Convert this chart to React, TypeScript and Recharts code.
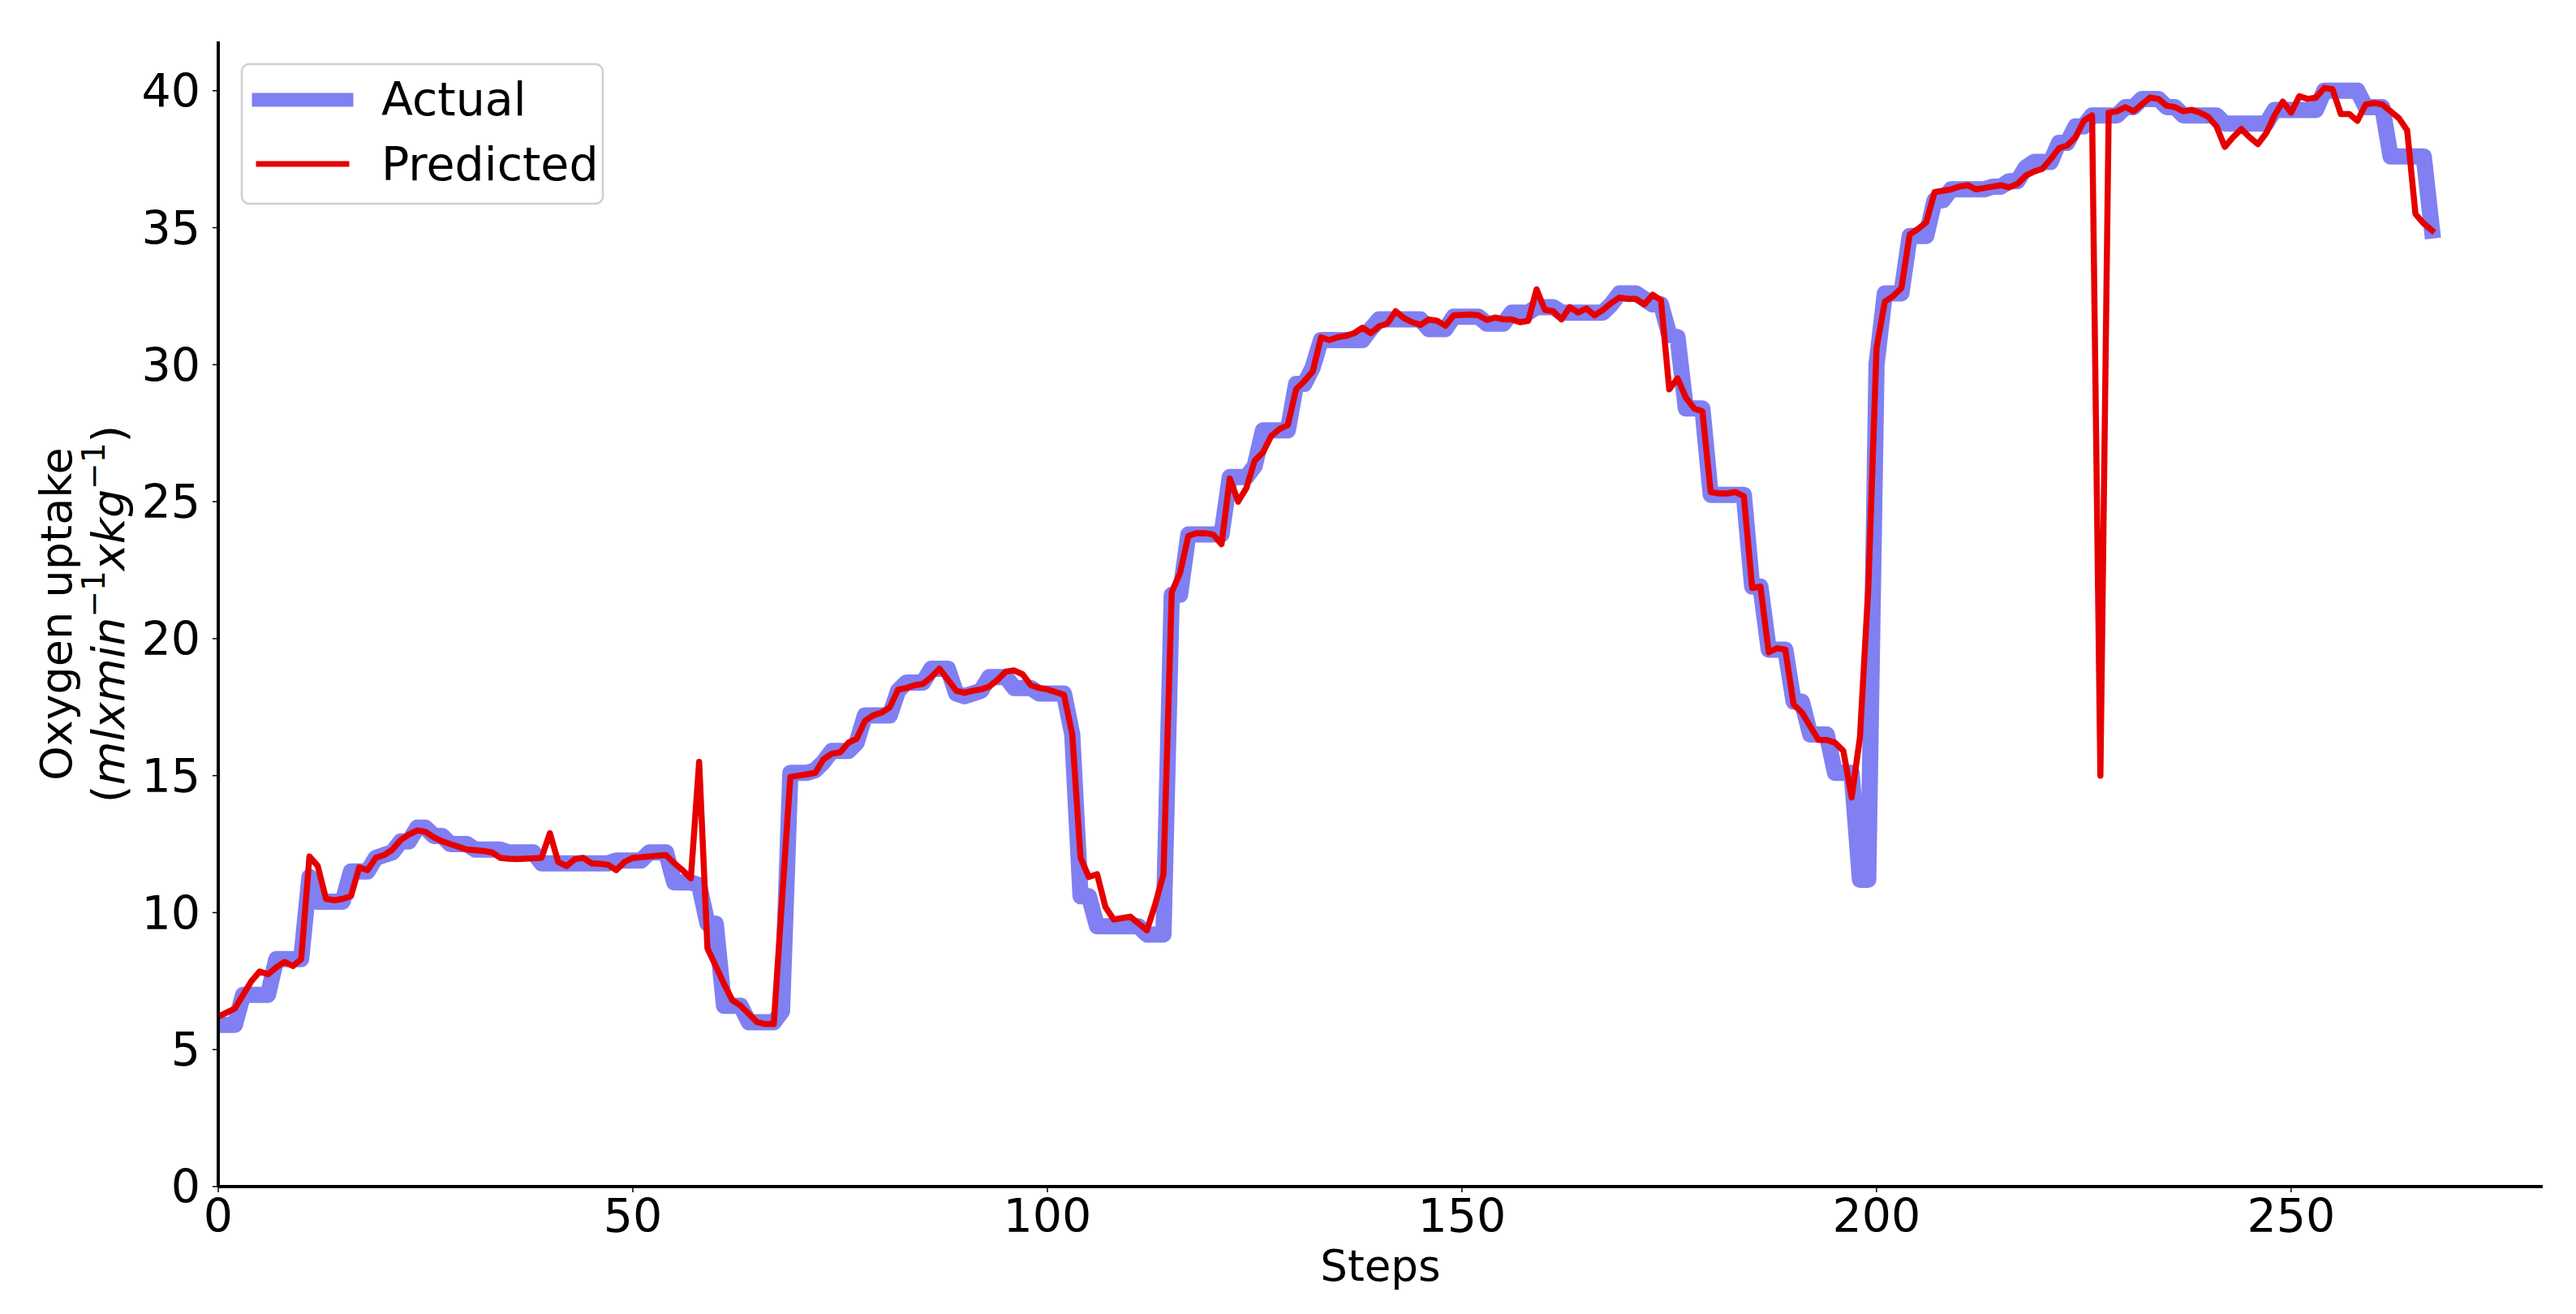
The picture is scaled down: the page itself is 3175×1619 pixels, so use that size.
import React from 'react';
import { LineChart, Line, XAxis, YAxis, Customized } from 'recharts';

// ---- data ----
const SERIES_NAMES = ['Actual', 'Predicted'];

const ACTUAL: number[] = [
  // 0-9
  5.9, 5.9, 5.9, 7.0, 7.0, 7.0, 7.0, 8.3, 8.3, 8.3,
  // 10-19
  8.3, 11.3, 10.4, 10.4, 10.4, 10.4, 11.5, 11.5, 11.5, 12.0,
  // 20-29
  12.1, 12.2, 12.6, 12.6, 13.1, 13.1, 12.8, 12.8, 12.5, 12.5,
  // 30-39
  12.5, 12.3, 12.3, 12.3, 12.3, 12.2, 12.2, 12.2, 12.2, 11.8,
  // 40-49
  11.8, 11.8, 11.8, 11.8, 11.8, 11.8, 11.8, 11.8, 11.9, 11.9,
  // 50-59
  11.9, 11.9, 12.2, 12.2, 12.2, 11.1, 11.1, 11.1, 11.0, 9.6,
  // 60-69
  9.6, 6.6, 6.6, 6.6, 6.0, 6.0, 6.0, 6.0, 6.4, 15.1,
  // 70-79
  15.1, 15.1, 15.2, 15.5, 15.9, 15.9, 15.9, 16.2, 17.2, 17.2,
  // 80-89
  17.2, 17.2, 18.1, 18.4, 18.4, 18.4, 18.9, 18.9, 18.9, 18.0,
  // 90-99
  17.9, 18.0, 18.1, 18.6, 18.6, 18.6, 18.2, 18.2, 18.2, 18.0,
  // 100-109
  18.0, 18.0, 18.0, 16.5, 10.6, 10.6, 9.5, 9.5, 9.5, 9.5,
  // 110-119
  9.5, 9.5, 9.2, 9.2, 9.2, 21.6, 21.6, 23.8, 23.8, 23.8,
  // 120-129
  23.8, 23.8, 25.9, 25.9, 25.9, 26.3, 27.6, 27.6, 27.6, 27.6,
  // 130-139
  29.3, 29.3, 29.9, 30.9, 30.9, 30.9, 30.9, 30.9, 30.9, 31.3,
  // 140-149
  31.65, 31.65, 31.65, 31.65, 31.65, 31.65, 31.3, 31.3, 31.3, 31.75,
  // 150-159
  31.75, 31.75, 31.75, 31.5, 31.5, 31.5, 31.9, 31.9, 31.9, 32.1,
  // 160-169
  32.1, 32.1, 31.9, 31.9, 31.9, 31.9, 31.9, 31.9, 32.2, 32.6,
  // 170-179
  32.6, 32.6, 32.4, 32.2, 32.2, 31.1, 31.0, 28.4, 28.4, 28.4,
  // 180-189
  25.25, 25.25, 25.25, 25.25, 25.25, 21.9, 21.9, 19.6, 19.6, 19.6,
  // 190-199
  17.7, 17.7, 16.5, 16.5, 16.5, 15.1, 15.1, 15.1, 11.2, 11.2,
  // 200-209
  30.0, 32.6, 32.6, 32.6, 34.7, 34.7, 34.7, 36.0, 36.0, 36.4,
  // 210-219
  36.4, 36.4, 36.4, 36.4, 36.5, 36.5, 36.7, 36.7, 37.2, 37.4,
  // 220-229
  37.4, 37.4, 38.1, 38.1, 38.7, 38.7, 39.1, 39.1, 39.1, 39.1,
  // 230-239
  39.4, 39.4, 39.7, 39.7, 39.7, 39.4, 39.4, 39.1, 39.1, 39.1,
  // 240-249
  39.1, 39.1, 38.8, 38.8, 38.8, 38.8, 38.8, 38.8, 39.3, 39.3,
  // 250-259
  39.3, 39.3, 39.3, 39.3, 40.0, 40.0, 40.0, 40.0, 40.0, 39.4,
  // 260-267
  39.4, 39.4, 37.6, 37.6, 37.6, 37.6, 37.6, 34.9,
];

const PREDICTED: number[] = [
  // 0-9
  6.2, 6.35, 6.5, 7.0, 7.5, 7.85, 7.75, 8.0, 8.2, 8.05,
  // 10-19
  8.3, 12.05, 11.7, 10.5, 10.45, 10.5, 10.6, 11.65, 11.55, 12.0,
  // 20-29
  12.1, 12.3, 12.65, 12.85, 13.0, 12.95, 12.75, 12.6, 12.5, 12.4,
  // 30-39
  12.3, 12.28, 12.25, 12.2, 12.0, 11.97, 11.95, 11.97, 11.98, 12.0,
  // 40-49
  12.9, 11.85, 11.7, 11.95, 12.0, 11.8, 11.78, 11.75, 11.55, 11.85,
  // 50-59
  12.0, 12.02, 12.05, 12.08, 12.1, 11.8, 11.55, 11.25, 15.5, 8.7,
  // 60-69
  8.05, 7.4, 6.8, 6.6, 6.3, 6.0, 5.93, 5.93, 10.5, 14.95,
  // 70-79
  15.0, 15.05, 15.1, 15.6, 15.8, 15.85, 16.2, 16.35, 17.0, 17.2,
  // 80-89
  17.3, 17.5, 18.14, 18.2, 18.3, 18.35, 18.6, 18.9, 18.5, 18.1,
  // 90-99
  18.02, 18.1, 18.15, 18.25, 18.5, 18.8, 18.84, 18.7, 18.3, 18.2,
  // 100-109
  18.15, 18.05, 17.95, 16.5, 12.0, 11.3, 11.4, 10.2, 9.75, 9.8,
  // 110-119
  9.85, 9.6, 9.35, 10.3, 11.4, 21.7, 22.4, 23.75, 23.85, 23.85,
  // 120-129
  23.8, 23.45, 25.85, 25.0, 25.5, 26.5, 26.8, 27.4, 27.65, 27.8,
  // 130-139
  29.1, 29.4, 29.75, 31.0, 30.9, 31.0, 31.05, 31.15, 31.35, 31.15,
  // 140-149
  31.4, 31.5, 31.95, 31.7, 31.55, 31.45, 31.65, 31.6, 31.42, 31.8,
  // 150-159
  31.82, 31.83, 31.8, 31.63, 31.72, 31.65, 31.65, 31.55, 31.6, 32.75,
  // 160-169
  32.0, 31.95, 31.65, 32.1, 31.9, 32.05, 31.8, 32.0, 32.25, 32.45,
  // 170-179
  32.4, 32.4, 32.2, 32.55, 32.35, 29.1, 29.5, 28.8, 28.4, 28.3,
  // 180-189
  25.35, 25.3, 25.3, 25.35, 25.2, 21.85, 21.9, 19.5, 19.65, 19.6,
  // 190-199
  17.6, 17.3, 16.8, 16.3, 16.3, 16.2, 15.9, 14.2, 16.4, 21.8,
  // 200-209
  30.6, 32.3, 32.5, 32.8, 34.75, 34.95, 35.2, 36.3, 36.35, 36.4,
  // 210-219
  36.5, 36.55, 36.4, 36.45, 36.5, 36.55, 36.47, 36.6, 36.9, 37.05,
  // 220-229
  37.15, 37.5, 37.9, 38.0, 38.3, 38.9, 39.1, 15.0, 39.2, 39.25,
  // 230-239
  39.4, 39.25, 39.5, 39.75, 39.7, 39.45, 39.4, 39.25, 39.3, 39.2,
  // 240-249
  39.05, 38.7, 37.95, 38.3, 38.6, 38.3, 38.05, 38.45, 39.1, 39.6,
  // 250-259
  39.2, 39.8, 39.7, 39.75, 40.1, 40.05, 39.15, 39.15, 38.9, 39.5,
  // 260-267
  39.55, 39.5, 39.25, 39.0, 38.55, 35.5, 35.15, 34.9,
];

const X_TICKS = [0, 50, 100, 150, 200, 250];
const Y_TICKS = [0, 5, 10, 15, 20, 25, 30, 35, 40];
const X_DOMAIN: [number, number] = [0, 280.35];
const Y_DOMAIN: [number, number] = [0, 41.8];

const data = ACTUAL.map((a, i) => ({ step: i, actual: a, predicted: PREDICTED[i] }));

// ---- styles ----
const FONT = 'DejaVu Sans';
const BLUE = '#8080f2';
const RED = '#e60000';
const TICK_FS = 57;

const LegendBox = () => (
  <g>
    <rect x={298} y={79} width={445} height={172} rx={9} ry={9} fill="#ffffff" fillOpacity={0.85} stroke="#cfcfcf" strokeWidth={2.5} />
    <line x1={319} x2={427} y1={123} y2={123} stroke={BLUE} strokeWidth={17} strokeLinecap="square" />
    <line x1={319} x2={427} y1={202} y2={202} stroke={RED} strokeWidth={7} strokeLinecap="square" />
    <text x={470} y={142} fontFamily={FONT} fontSize={57} fill="#000">{SERIES_NAMES[0]}</text>
    <text x={470} y={222} fontFamily={FONT} fontSize={57} fill="#000">{SERIES_NAMES[1]}</text>
  </g>
);

const YLabel = (props: any) => {
  const vb = props.viewBox || { x: 0, y: 51, width: 0, height: 1411 };
  const cy = vb.y + vb.height / 2;
  return (
    <g>
      <text transform={`translate(88,${cy}) rotate(-90)`} textAnchor="middle" fontFamily={FONT} fontSize={54} fill="#000">
        Oxygen uptake
      </text>
      <text transform={`translate(153,${cy}) rotate(-90)`} textAnchor="middle" fontFamily={FONT} fontSize={55.5} fill="#000">
        <tspan>(</tspan>
        <tspan fontStyle="italic">mlxmin</tspan>
        <tspan fontSize={39} dy={-24}>−1</tspan>
        <tspan fontStyle="italic" dy={24}>xkg</tspan>
        <tspan fontSize={39} dy={-24}>−1</tspan>
        <tspan dy={24}>)</tspan>
      </text>
    </g>
  );
};

const XLabel = (props: any) => {
  const vb = props.viewBox || { x: 269, y: 1462, width: 2861, height: 100 };
  return (
    <text x={vb.x + vb.width / 2} y={1578} textAnchor="middle" fontFamily={FONT} fontSize={53} fill="#000">
      Steps
    </text>
  );
};

export default function App() {
  return (
    <div style={{ position: 'absolute', left: 0, top: 0, background: '#fff' }}>
      <LineChart width={3175} height={1619} data={data} margin={{ top: 51, right: 41, bottom: 57, left: 149 }}>
        <XAxis
          dataKey="step"
          type="number"
          domain={X_DOMAIN}
          ticks={X_TICKS}
          height={100}
          axisLine={{ stroke: '#000', strokeWidth: 4 }}
          tickLine={{ stroke: '#000', strokeWidth: 1.5 }}
          tickSize={7}
          tickMargin={9}
          tick={{ fontSize: TICK_FS, fontFamily: FONT, fill: '#000' }}
          label={{ content: XLabel }}
          allowDataOverflow
        />
        <YAxis
          type="number"
          domain={Y_DOMAIN}
          ticks={Y_TICKS}
          width={120}
          axisLine={{ stroke: '#000', strokeWidth: 4 }}
          tickLine={{ stroke: '#000', strokeWidth: 1.5 }}
          tickSize={7}
          tickMargin={15}
          tick={{ fontSize: TICK_FS, fontFamily: FONT, fill: '#000' }}
          label={{ content: YLabel }}
          allowDataOverflow
        />
        <Line
          type="linear"
          dataKey="actual"
          name={SERIES_NAMES[0]}
          stroke={BLUE}
          strokeWidth={20}
          strokeLinejoin="round"
          strokeLinecap="square"
          dot={false}
          activeDot={false}
          isAnimationActive={false}
        />
        <Line
          type="linear"
          dataKey="predicted"
          name={SERIES_NAMES[1]}
          stroke={RED}
          strokeWidth={7.5}
          strokeLinejoin="round"
          strokeLinecap="square"
          dot={false}
          activeDot={false}
          isAnimationActive={false}
        />
        <Customized component={LegendBox} />
      </LineChart>
    </div>
  );
}
